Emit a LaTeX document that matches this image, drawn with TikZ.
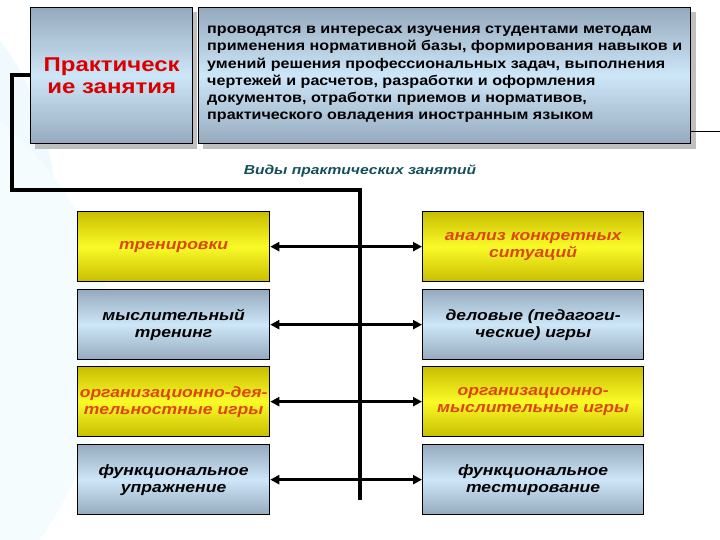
\documentclass[tikz,border=0pt]{standalone}
\usepackage{fontspec}
\setmainfont{Liberation Sans}
\usetikzlibrary{arrows.meta}
\definecolor{bl1}{RGB}{150,170,190}
\definecolor{bl2}{RGB}{205,230,248}
\definecolor{ye1}{RGB}{200,190,0}
\definecolor{ye2}{RGB}{250,250,40}
\definecolor{ortx}{RGB}{220,70,10}
\definecolor{teal}{RGB}{20,80,90}
\tikzset{
 bluebox/.style={draw=black,line width=1.3pt,top color=bl1,bottom color=bl1,middle color=bl2,shading angle=0},
 yelbox/.style={draw=black,line width=1.3pt,top color=ye1,bottom color=ye1,middle color=ye2},
 shad/.style={fill=black!25},
 kind/.style={font=\bfseries\itshape\fontsize{15}{17}\selectfont,align=center,xscale=1.17},
 conn/.style={line width=4pt},
 arr/.style={line width=3pt,{Triangle[length=9pt,width=9pt]}-{Triangle[length=9pt,width=9pt]}}
}
\begin{document}
\begin{tikzpicture}[x=1pt,y=-1pt]
\useasboundingbox (0,0) rectangle (720,540);
\fill[cyan!6] (0,40) .. controls (60,120) and (90,250) .. (0,540) -- cycle;
\fill[cyan!4] (0,120) .. controls (160,260) and (120,420) .. (40,540) -- (0,540) -- cycle;
% shadows
\fill[shad] (35,12) rectangle (197,149);
\fill[shad] (203,12) rectangle (696,149);
\node[bluebox,minimum width=162pt,minimum height=136pt,anchor=north west,inner sep=0pt] (A) at (30,7) {};
\node[align=center,font=\bfseries\fontsize{20}{22}\selectfont,text=red!85!black,xscale=1.2] (At) at (A.center) {Практическ\\ие занятия};
\node[bluebox,minimum width=492pt,minimum height=136pt,anchor=north west,inner sep=0pt] (B) at (198,7) {};
\node[anchor=north west,align=left,font=\bfseries\fontsize{14}{17.2}\selectfont,inner sep=0pt,xscale=1.15] (Bt) at (207,26) {проводятся в интересах изучения студентами методам\\применения нормативной базы, формирования навыков и\\умений решения профессиональных задач, выполнения\\чертежей и расчетов, разработки и оформления\\документов, отработки приемов и нормативов,\\практического овладения иностранным языком};
\coordinate (Le) at (720,132);
\draw[line width=1pt] (B.east |- Le) -- (Le);
\node[font=\bfseries\itshape\fontsize{13}{15}\selectfont,text=teal,xscale=1.2] (V) at (360,171) {Виды практических занятий};
\coordinate (c1) at (12,75);
\coordinate (c2) at (12,190);
\coordinate (c3) at (360,190);
\coordinate (c4) at (360,500);
\draw[conn] (A.west |- c1) -- (c1) -- (c2) -- (c3) -- (c4);
% boxes
\foreach \n/\y/\s in {1/211/yelbox,2/289/bluebox,3/366/yelbox,4/444/bluebox}{
 \node[\s,minimum width=192pt,minimum height=70pt,anchor=north west,inner sep=0pt] (L\n) at (77,\y) {};
 \node[\s,minimum width=221pt,minimum height=70pt,anchor=north west,inner sep=0pt] (R\n) at (422,\y) {};
 \draw[arr] (L\n.east) -- (R\n.west);
}
\node[kind,text=ortx] at (L1.center) {тренировки};
\node[kind,text=ortx] at (R1.center) {анализ конкретных\\ситуаций};
\node[kind] at (L2.center) {мыслительный\\тренинг};
\node[kind] at (R2.center) {деловые (педагоги-\\ческие) игры};
\node[kind,text=ortx] at (L3.center) {организационно-дея-\\тельностные игры};
\node[kind,text=ortx] at (R3.center) {организационно-\\мыслительные игры};
\node[kind] at (L4.center) {функциональное\\упражнение};
\node[kind] at (R4.center) {функциональное\\тестирование};
\end{tikzpicture}
\end{document}
